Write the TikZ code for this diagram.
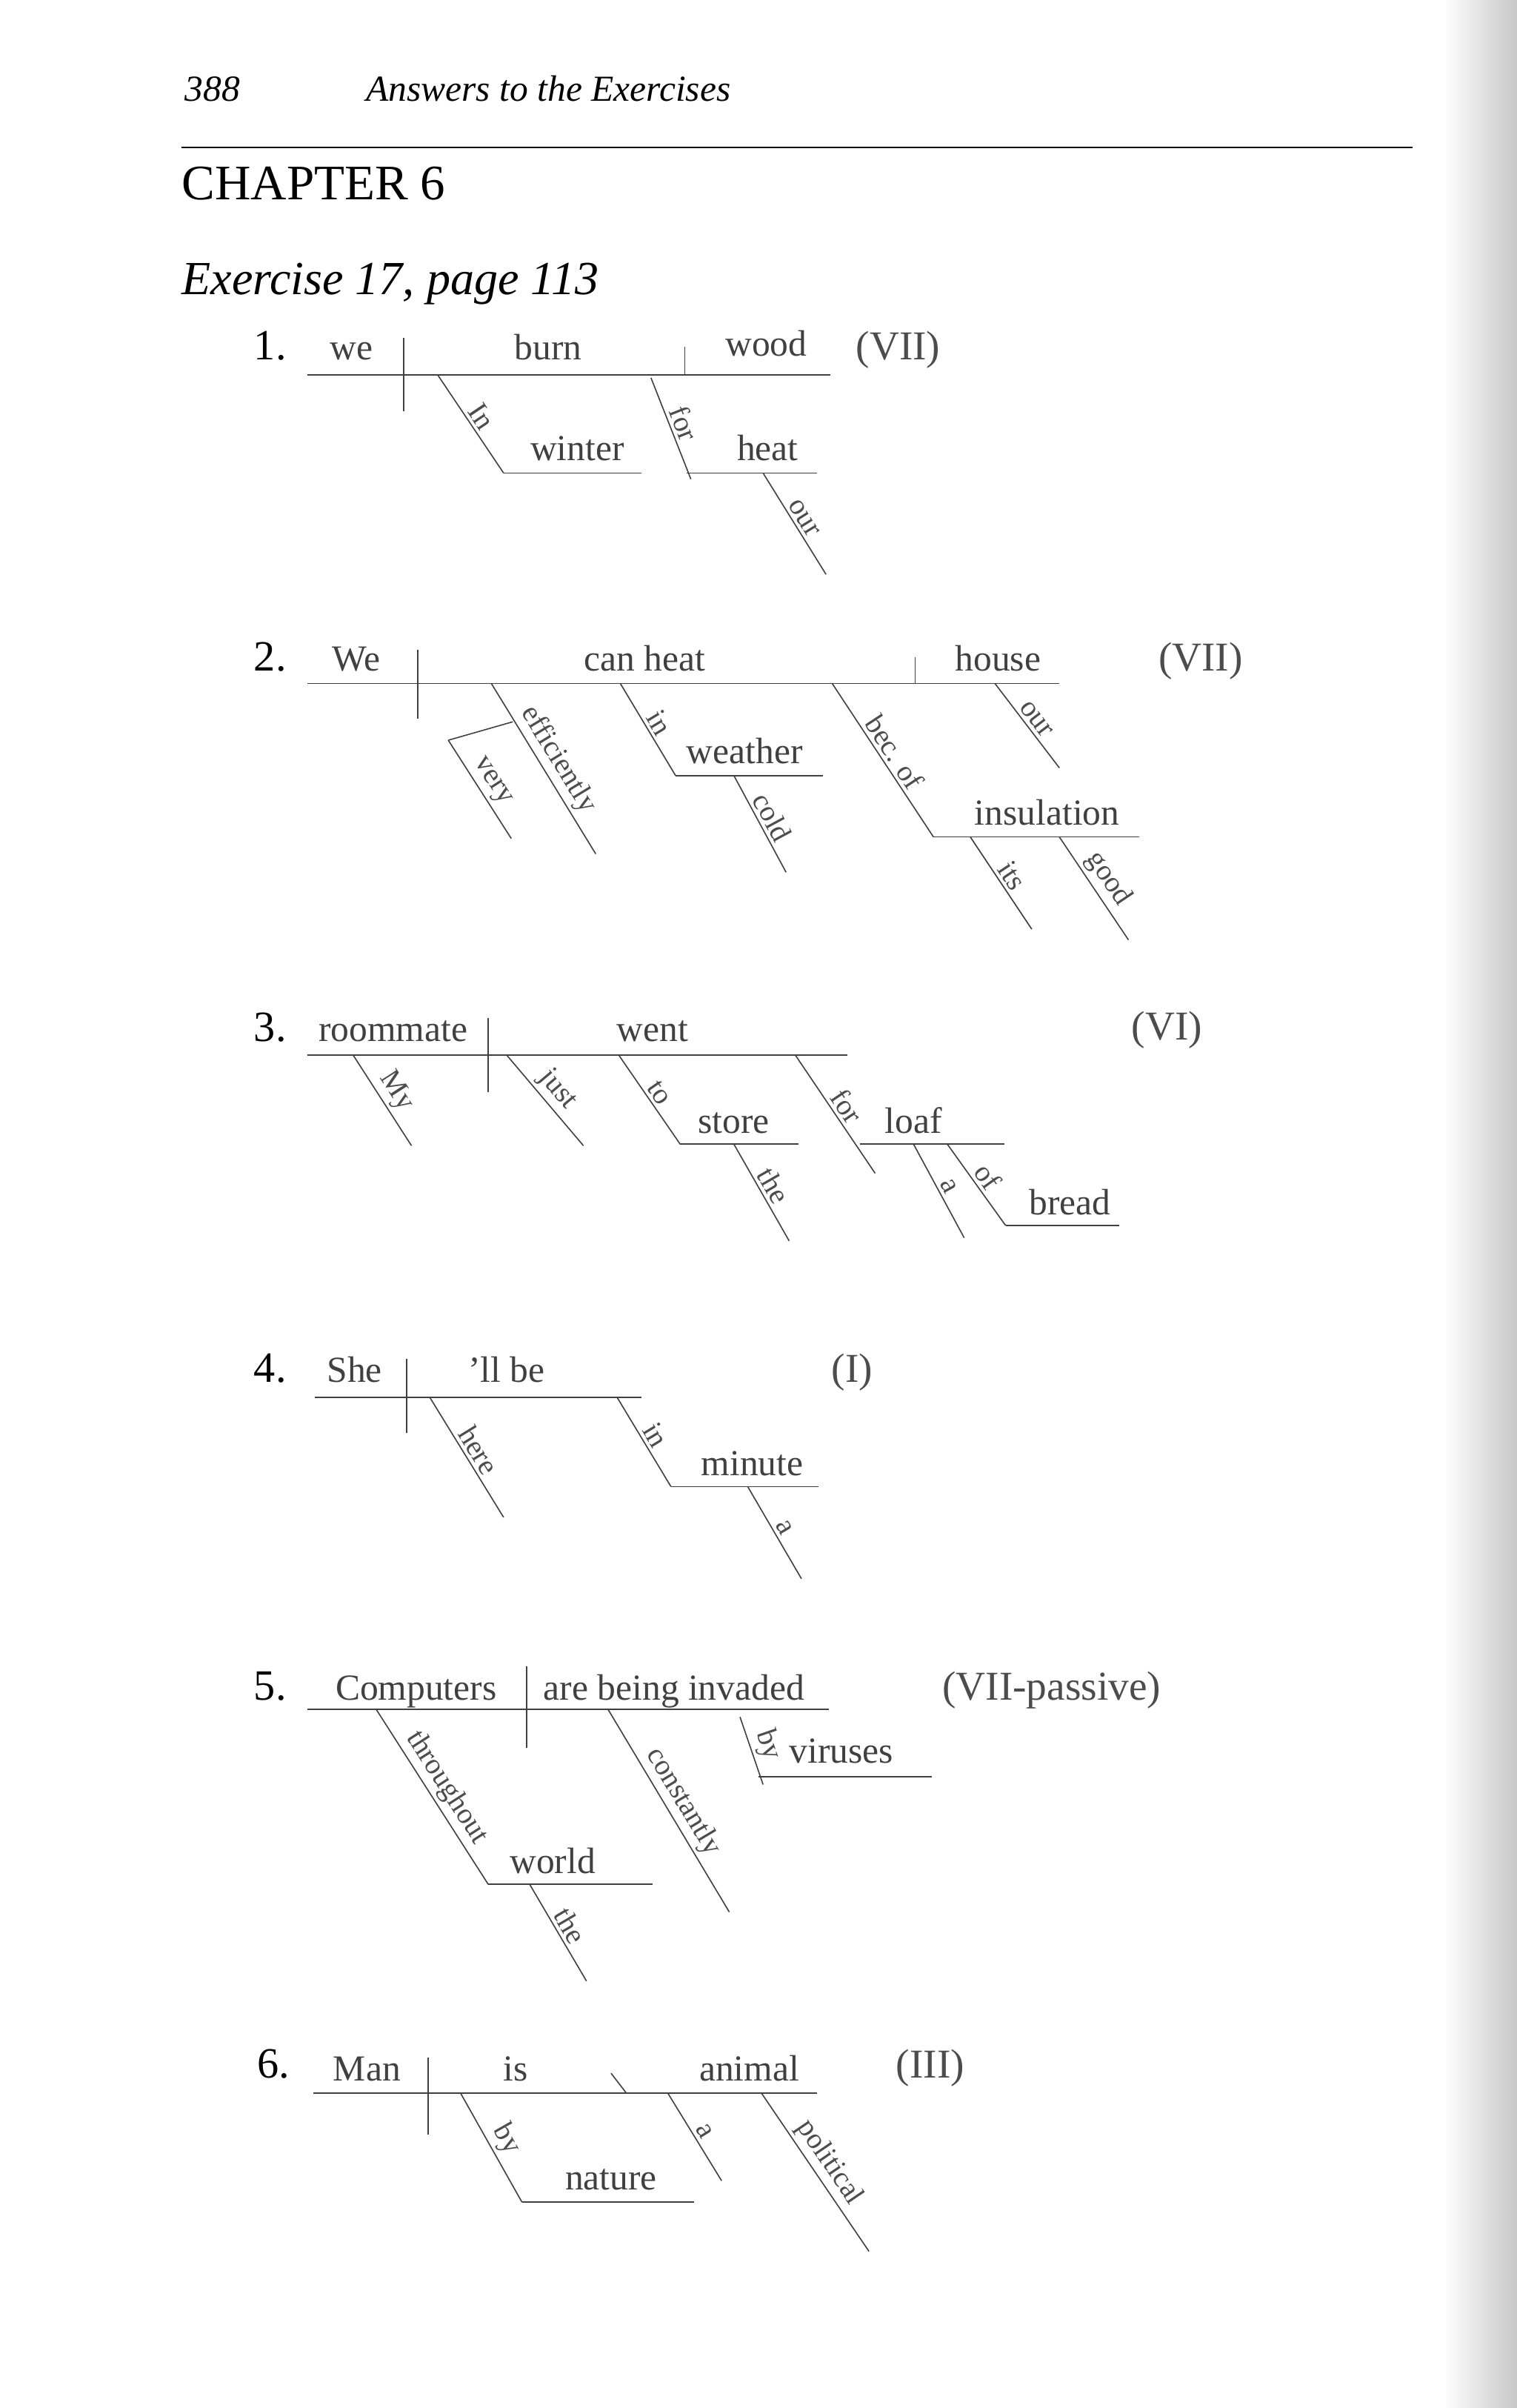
\documentclass[tikz,border=0pt]{standalone}
\usepackage{fontspec}
\setmainfont{Liberation Serif}
\begin{document}
\begin{tikzpicture}[x=0.05cm,y=-0.05cm,
  ln/.style={line width=1.1pt,draw=black!75},
  wd/.style={font=\fontsize{34}{36}\selectfont,text=black!75,anchor=base,inner sep=2pt},
  sw/.style={font=\fontsize{27}{29}\selectfont,text=black!70,inner sep=3pt},
  num/.style={font=\fontsize{40}{42}\selectfont,anchor=base},
  typ/.style={font=\fontsize{38}{40}\selectfont,text=black!70,anchor=base}]
\newcommand\dgsl[3]{\draw[ln] #1 -- #2 node[midway,sloped,above,sw]{#3};}
\useasboundingbox (0,0) rectangle (988,1568);
\fill[white] (0,0) rectangle (988,1568);
\shade[left color=white,right color=black!22] (940,0) rectangle (988,1568);
% header
\node[font=\fontsize{34}{36}\selectfont\itshape,anchor=base west] (pg) at (118,66) {388};
\node[font=\fontsize{34}{36}\selectfont\itshape,anchor=base west] (ttl) at (236,66) {Answers to the Exercises};
\draw[line width=1.3pt] (118,96) -- (920,96);
\node[font=\fontsize{46}{48}\selectfont,anchor=base west] (ch) at (116,130) {CHAPTER 6};
\node[font=\fontsize{44}{46}\selectfont\itshape,anchor=base west] (ex) at (116,192) {Exercise 17, page 113};
% 1
\node[num] at (176,234) {1.};
\draw[ln] (200,244) -- (541,244); \draw[ln] (263,220) -- (263,268); \draw[ln] (446,226) -- (446,244);
\node[wd] at (229,234) {we}; \node[wd] at (357,234) {burn}; \node[wd] at (499,232) {wood}; \node[typ] at (585,234) {(VII)};
\dgsl{(285,244)}{(328,308)}{In} \draw[ln] (328,308) -- (418,308); \node[wd] at (376,300) {winter};
\dgsl{(424,246)}{(450,312)}{for} \draw[ln] (447,308) -- (532,308); \node[wd] at (500,300) {heat};
\dgsl{(497,308)}{(538,374)}{our}
% 2
\node[num] at (176,437) {2.};
\draw[ln] (200,445) -- (690,445); \draw[ln] (272,423) -- (272,468); \draw[ln] (596,428) -- (596,445);
\node[wd] at (232,437) {We}; \node[wd] at (420,437) {can heat}; \node[wd] at (650,437) {house}; \node[typ] at (782,437) {(VII)};
\dgsl{(320,445)}{(388,556)}{efficiently}
\draw[ln] (292,482) -- (334,470); \dgsl{(292,482)}{(333,546)}{very}
\dgsl{(404,445)}{(440,505)}{in} \draw[ln] (440,505) -- (536,505); \node[wd] at (485,497) {weather};
\dgsl{(478,505)}{(512,568)}{cold}
\dgsl{(542,445)}{(608,545)}{bec. of} \draw[ln] (608,545) -- (742,545); \node[wd] at (682,537) {insulation};
\dgsl{(632,545)}{(672,605)}{its} \dgsl{(690,545)}{(735,612)}{good}
\dgsl{(648,445)}{(690,500)}{our}
% 3
\node[num] at (176,678) {3.};
\draw[ln] (200,687) -- (552,687); \draw[ln] (318,663) -- (318,711);
\node[wd] at (256,678) {roommate}; \node[wd] at (425,678) {went}; \node[typ] at (760,677) {(VI)};
\dgsl{(230,687)}{(268,746)}{My} \dgsl{(330,687)}{(380,746)}{just}
\dgsl{(403,687)}{(443,745)}{to} \draw[ln] (443,745) -- (520,745); \node[wd] at (478,738) {store};
\dgsl{(478,745)}{(514,808)}{the}
\dgsl{(518,687)}{(570,764)}{for} \draw[ln] (560,745) -- (654,745); \node[wd] at (595,738) {loaf};
\dgsl{(595,745)}{(628,806)}{a} \dgsl{(617,745)}{(655,798)}{of}
\draw[ln] (655,798) -- (729,798); \node[wd] at (697,791) {bread};
% 4
\node[num] at (176,900) {4.};
\draw[ln] (205,910) -- (418,910); \draw[ln] (265,885) -- (265,933);
\node[wd] at (231,900) {She}; \node[wd] at (330,900) {'ll be}; \node[typ] at (555,900) {(I)};
\dgsl{(280,910)}{(328,988)}{here}
\dgsl{(402,910)}{(437,968)}{in} \draw[ln] (437,968) -- (533,968); \node[wd] at (490,961) {minute};
\dgsl{(487,968)}{(522,1028)}{a}
% 5
\node[num] at (176,1107) {5.};
\draw[ln] (200,1113) -- (540,1113); \draw[ln] (343,1085) -- (343,1138);
\node[wd] at (271,1107) {Computers}; \node[wd] at (439,1107) {are being invaded}; \node[typ] at (685,1107) {(VII-passive)};
\dgsl{(245,1113)}{(318,1227)}{throughout} \draw[ln] (318,1227) -- (425,1227); \node[wd] at (360,1220) {world};
\dgsl{(345,1227)}{(382,1290)}{the}
\dgsl{(396,1113)}{(475,1245)}{constantly}
\dgsl{(482,1118)}{(497,1162)}{by} \draw[ln] (494,1157) -- (607,1157); \node[wd] at (548,1148) {viruses};
% 6
\node[num] at (178,1353) {6.};
\draw[ln] (204,1363) -- (532,1363); \draw[ln] (279,1340) -- (279,1390); \draw[ln] (398,1350) -- (408,1363);
\node[wd] at (239,1355) {Man}; \node[wd] at (336,1355) {is}; \node[wd] at (488,1355) {animal}; \node[typ] at (606,1353) {(III)};
\dgsl{(300,1363)}{(340,1434)}{by} \draw[ln] (340,1434) -- (452,1434); \node[wd] at (398,1426) {nature};
\dgsl{(435,1363)}{(470,1420)}{a}
\dgsl{(496,1363)}{(566,1466)}{political}
\end{tikzpicture}
\end{document}
